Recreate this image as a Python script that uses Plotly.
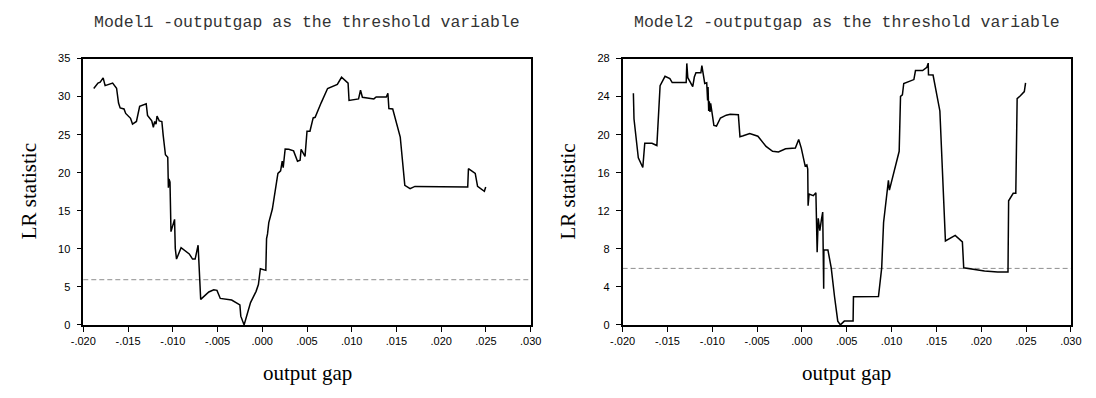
import plotly.graph_objects as go

# ---------------- data ----------------
tick_vals = [-0.020, -0.015, -0.010, -0.005, 0.000, 0.005, 0.010, 0.015, 0.020, 0.025, 0.030]
tick_text = ["-.020", "-.015", "-.010", "-.005", ".000", ".005", ".010", ".015", ".020", ".025", ".030"]

titles = ["Model1 -outputgap as the threshold variable",
          "Model2 -outputgap as the threshold variable"]
critical_value = 5.94

gap1 = [-0.01883, -0.01836, -0.01811, -0.01778, -0.01756, -0.01672, -0.01628, -0.01606, -0.01588, -0.01545,
        -0.01526, -0.01472, -0.0145, -0.01406, -0.0137, -0.01297, -0.01282, -0.01235, -0.01217, -0.01202,
        -0.01187, -0.01176, -0.01151, -0.01122, -0.01107, -0.01082, -0.01056, -0.01049, -0.01042, -0.01031,
        -0.0102, -0.00998, -0.0098, -0.00972, -0.00958, -0.00907, -0.00816, -0.00779, -0.0075, -0.00717,
        -0.00688, -0.00597, -0.00542, -0.00506, -0.00469, -0.00342, -0.00269, -0.0025, -0.0024, -0.00203,
        -0.00131, -0.00069, -0.00043, -0.00021, 0.0004, 0.00048, 0.00059, 0.00073, 0.00113, 0.00161,
        0.00175, 0.00205, 0.00223, 0.00234, 0.00248, 0.00256, 0.00296, 0.0035, 0.00394, 0.00423,
        0.00434, 0.00478, 0.005, 0.00533, 0.00569, 0.00591, 0.00657, 0.0073, 0.00839, 0.00886,
        0.00959, 0.0097, 0.01076, 0.01098, 0.01119, 0.01247, 0.01273, 0.01386, 0.01404, 0.01415,
        0.01458, 0.01495, 0.01542, 0.01593, 0.01652, 0.01706, 0.0179, 0.01805, 0.02296, 0.02304,
        0.02337, 0.0238, 0.02406, 0.02482, 0.02497]
lr1 = [31.06, 31.78, 31.9, 32.46, 31.44, 31.78, 31.1, 29.15, 28.51, 28.38,
       27.79, 27.15, 26.39, 26.73, 28.72, 29.06, 27.53, 26.81, 25.97, 26.73,
       26.39, 27.45, 26.81, 26.73, 24.9, 22.36, 22.02, 18.03, 19.18, 18.75,
       12.26, 13.02, 13.87, 10.06, 8.65, 10.14, 9.33, 8.65, 8.65, 10.48,
       3.35, 4.33, 4.62, 4.54, 3.48, 3.27, 2.72, 2.63, 1.15, 0.0,
       2.93, 4.41, 5.3, 7.38, 7.17, 11.33, 11.96, 13.45, 15.23, 18.75,
       19.9, 20.24, 21.51, 20.66, 22.02, 23.12, 23.08, 22.87, 21.51, 21.64,
       23.08, 22.15, 25.46, 25.46, 27.2, 27.28, 29.15, 31.06, 31.61, 32.54,
       31.78, 29.49, 29.7, 30.84, 29.91, 29.7, 29.95, 29.95, 30.42, 28.43,
       28.38, 26.69, 24.69, 18.33, 17.9, 18.2, 18.2, 18.12, 18.12, 20.53,
       20.24, 19.9, 18.2, 17.56, 18.12]

gap2 = [-0.0188, -0.01873, -0.01825, -0.01775, -0.01753, -0.01673, -0.01618, -0.016, -0.01582, -0.01527,
        -0.01473, -0.01447, -0.01291, -0.01284, -0.01273, -0.01218, -0.012, -0.01182, -0.01127, -0.01116,
        -0.01105, -0.01084, -0.01062, -0.01052, -0.01047, -0.0104, -0.01033, -0.01025, -0.01018, -0.00995,
        -0.00982, -0.00953, -0.00909, -0.00844, -0.008, -0.00709, -0.00691, -0.00655, -0.00582, -0.00491,
        -0.004, -0.00327, -0.00262, -0.00182, -0.00073, -0.00036, -0.00007, 0.00036, 0.00055, 0.00065,
        0.00069, 0.0008, 0.00127, 0.00156, 0.0017, 0.00182, 0.002, 0.00218, 0.00232, 0.00243,
        0.00245, 0.0029, 0.00327, 0.00364, 0.004, 0.00429, 0.00473, 0.00571, 0.00575, 0.00854,
        0.0089, 0.00911, 0.0094, 0.00965, 0.00976, 0.0102, 0.01074, 0.01085, 0.011, 0.01121,
        0.01136, 0.01249, 0.01267, 0.01347, 0.01394, 0.01409, 0.01412, 0.01463, 0.01539, 0.01601,
        0.0171, 0.0179, 0.01805, 0.02037, 0.02183, 0.02299, 0.02306, 0.02357, 0.02386, 0.02401,
        0.02437, 0.02481, 0.02495]
lr2 = [24.36, 21.64, 17.57, 16.55, 19.1, 19.1, 18.86, 22.32, 25.14, 26.13,
       25.89, 25.48, 25.48, 27.49, 25.99, 25.04, 26.06, 26.5, 26.5, 27.25,
       26.4, 25.38, 25.45, 23.6, 25.0, 22.5, 23.5, 22.4, 23.3, 21.5,
       20.97, 20.9, 21.75, 22.05, 22.15, 22.09, 19.78, 19.88, 20.12, 19.84,
       18.76, 18.25, 18.18, 18.52, 18.59, 19.5, 18.59, 16.72, 16.82, 16.38,
       12.54, 13.76, 13.59, 13.9, 7.65, 11.2, 9.9, 11.1, 11.86, 3.8,
       7.88, 7.88, 6.0, 2.96, 0.4, 0.0, 0.4, 0.4, 2.96, 2.99,
       6.0, 10.77, 13.49, 15.19, 14.17, 15.87, 17.91, 18.25, 24.02, 24.19,
       25.38, 25.79, 26.74, 26.74, 27.08, 27.52, 26.3, 26.27, 22.49, 8.83,
       9.41, 8.73, 6.01, 5.67, 5.57, 5.57, 13.05, 13.83, 13.83, 23.79,
       24.09, 24.53, 25.45]

# ---------------- figure ----------------
# page body has an 8px margin: make the figure fit inside the window
OFF = 8
W, H = 1096 - 2 * OFF, 398 - 2 * OFF


def px_x(x):
    return (x - OFF) / W


def px_y(y):
    return (H - (y - OFF)) / H


fig = go.Figure()
fig.add_trace(go.Scatter(x=gap1, y=lr1, mode="lines", line=dict(color="black", width=1.5),
                         xaxis="x", yaxis="y", showlegend=False, hoverinfo="skip"))
fig.add_trace(go.Scatter(x=gap2, y=lr2, mode="lines", line=dict(color="black", width=1.5),
                         xaxis="x2", yaxis="y2", showlegend=False, hoverinfo="skip"))

for xr, yr in (("x", "y"), ("x2", "y2")):
    fig.add_shape(type="line", xref=f"{xr} domain", yref=yr, x0=0, x1=1,
                  y0=critical_value, y1=critical_value,
                  line=dict(color="#8f8f8f", width=1, dash="5px,3px"), layer="below")

tick_font = dict(family="Liberation Sans, Arial, sans-serif", size=11, color="black")
common_x = dict(range=[-0.02, 0.03], tickvals=tick_vals, ticktext=tick_text, ticks="outside",
                ticklen=5, tickwidth=1, tickcolor="black", showline=True, linecolor="black",
                linewidth=1.5, mirror=True, showgrid=False, zeroline=False, tickfont=tick_font)
common_y = dict(ticks="outside", ticklen=5, tickwidth=1, tickcolor="black", showline=True,
                linecolor="black", linewidth=1.5, mirror=True, showgrid=False, zeroline=False,
                tickfont=tick_font, ticklabelstandoff=4)

y_dom = [px_y(329), px_y(54)]
x_dom1 = [px_x(71.7), px_x(529.3)]
x_dom2 = [px_x(623.3), px_x(1081.7)]

fig.update_layout(
    width=W, height=H, autosize=False,
    margin=dict(l=0, r=0, t=0, b=0, pad=0),
    paper_bgcolor="white", plot_bgcolor="white",
    xaxis=dict(domain=x_dom1, anchor="y", **common_x),
    yaxis=dict(domain=y_dom, anchor="x", range=[0, 35], tickvals=[0, 5, 10, 15, 20, 25, 30, 35], **common_y),
    xaxis2=dict(domain=x_dom2, anchor="y2", **common_x),
    yaxis2=dict(domain=y_dom, anchor="x2", range=[0, 28], tickvals=[0, 4, 8, 12, 16, 20, 24, 28], **common_y),
)

title_font = dict(family="Liberation Mono, Courier New, monospace", size=16.5, color="#333333")
serif_font = dict(family="Liberation Serif, Times New Roman, serif", size=21, color="black")
for (l, r), t in zip(((71.7, 529.3), (623.3, 1081.7)), titles):
    cx = (l + r) / 2
    fig.add_annotation(text=t, xref="paper", yref="paper", x=px_x(cx), y=px_y(17),
                       showarrow=False, font=title_font, xanchor="center", yanchor="middle")
    fig.add_annotation(text="output gap", xref="paper", yref="paper", x=px_x(cx), y=px_y(379),
                       showarrow=False, font=serif_font, xanchor="center", yanchor="middle")
    fig.add_annotation(text="LR statistic", xref="paper", yref="paper",
                       x=px_x(l - 56), y=px_y(191.5), textangle=-90,
                       showarrow=False, font=serif_font, xanchor="center", yanchor="middle")

fig.write_html("out.html")
